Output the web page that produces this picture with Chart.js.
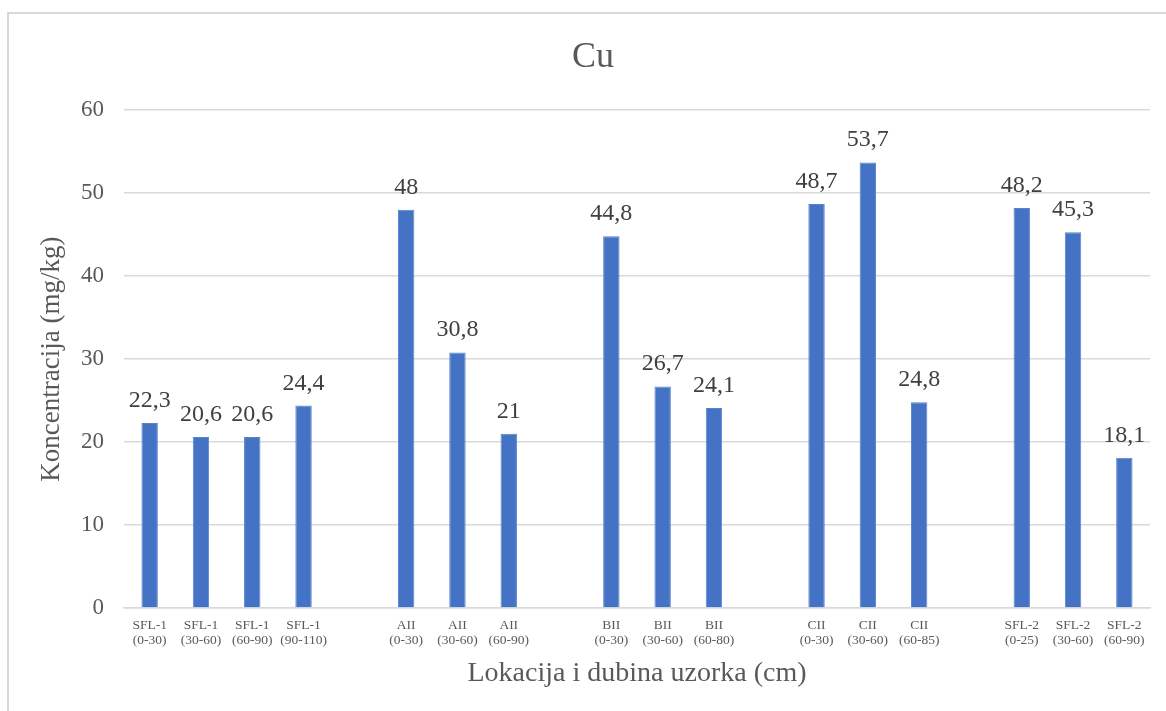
<!DOCTYPE html>
<html>
<head>
<meta charset="utf-8">
<script src="https://cdn.jsdelivr.net/npm/chart.js@4"></script>
<style>
  html, body { margin: 0; padding: 0; background: #fff; overflow: hidden; }
  #frame {
    position: absolute; left: 7px; top: 12px; width: 1200px; height: 760px;
    border-left: 2px solid #d9d9d9; border-top: 2px solid #d9d9d9;
  }
  #wrap { position: absolute; left: 0; top: 0; width: 1166px; height: 711px; }
</style>
</head>
<body>
<div id="frame"></div>
<div id="wrap"><canvas id="myChart1"></canvas></div>
<script>
// Categories (blank entries are the gaps between locations)
const sampleLabels = [
    ['SFL-1', '(0-30)'], ['SFL-1', '(30-60)'], ['SFL-1', '(60-90)'], ['SFL-1', '(90-110)'], '',
    ['AII', '(0-30)'], ['AII', '(30-60)'], ['AII', '(60-90)'], '',
    ['BII', '(0-30)'], ['BII', '(30-60)'], ['BII', '(60-80)'], '',
    ['CII', '(0-30)'], ['CII', '(30-60)'], ['CII', '(60-85)'], '',
    ['SFL-2', '(0-25)'], ['SFL-2', '(30-60)'], ['SFL-2', '(60-90)']
];
const cuValues = [22.3, 20.6, 20.6, 24.4, null, 48, 30.8, 21, null, 44.8, 26.7, 24.1, null, 48.7, 53.7, 24.8, null, 48.2, 45.3, 18.1];
const yTicks = [0, 10, 20, 30, 40, 50, 60];

const serif = "'Liberation Serif', 'Times New Roman', serif";

// Value labels above each bar, with decimal comma
const barLabels = {
    id: 'barLabels',
    afterDatasetsDraw(chart) {
        const ctx = chart.ctx;
        const meta = chart.getDatasetMeta(0);
        ctx.save();
        ctx.font = '24px ' + serif;
        ctx.fillStyle = '#404040';
        ctx.textAlign = 'center';
        ctx.textBaseline = 'alphabetic';
        meta.data.forEach((bar, i) => {
            const v = cuValues[i];
            if (v === null) return;
            ctx.fillText(String(v).replace('.', ','), bar.x, bar.y - 16);
        });
        ctx.restore();
    }
};

const ctx = document.getElementById('myChart1').getContext('2d');
const myChart1 = new Chart(ctx, {
    type: 'bar',
    data: {
        labels: sampleLabels,
        datasets: [{
            label: 'Cu',
            data: cuValues,
            backgroundColor: '#4472C4',
            borderColor: '#5a83cc',
            borderWidth: 1,
            categoryPercentage: 1,
            barPercentage: 0.32
        }]
    },
    options: {
        responsive: true,
        maintainAspectRatio: false,
        animation: false,
        layout: { padding: { left: 36, right: 16, top: 0, bottom: 0 } },
        scales: {
            x: {
                grid: { display: false, drawTicks: false },
                border: { display: true, color: '#d9d9d9', width: 1.5 },
                ticks: {
                    autoSkip: false,
                    maxRotation: 0,
                    padding: 10,
                    color: '#595959',
                    font: { family: serif, size: 13.5, lineHeight: 1.12 }
                },
                title: {
                    display: true,
                    text: 'Lokacija i dubina uzorka (cm)',
                    color: '#595959',
                    font: { family: serif, size: 28 },
                    padding: { top: 4, bottom: 21 }
                },
                afterFit(scale) { scale.height = 103; }
            },
            y: {
                min: 0,
                max: 60,
                afterBuildTicks(scale) { scale.ticks = yTicks.map(v => ({ value: v })); },
                grid: { color: '#d9d9d9', lineWidth: 1.5, drawTicks: false },
                border: { display: false },
                ticks: {
                    padding: 20,
                    color: '#595959',
                    font: { family: serif, size: 23 }
                },
                title: {
                    display: true,
                    text: 'Koncentracija (mg/kg)',
                    color: '#595959',
                    font: { family: serif, size: 27 },
                    padding: { top: 0, bottom: 0 }
                },
                afterFit(scale) { scale.width = 88; }
            }
        },
        plugins: {
            title: {
                display: true,
                text: 'Cu',
                color: '#595959',
                font: { family: serif, size: 36, weight: 'normal' },
                padding: { top: 36, bottom: 31 }
            },
            legend: { display: false },
            tooltip: { enabled: false }
        }
    },
    plugins: [barLabels]
});
</script>
</body>
</html>
